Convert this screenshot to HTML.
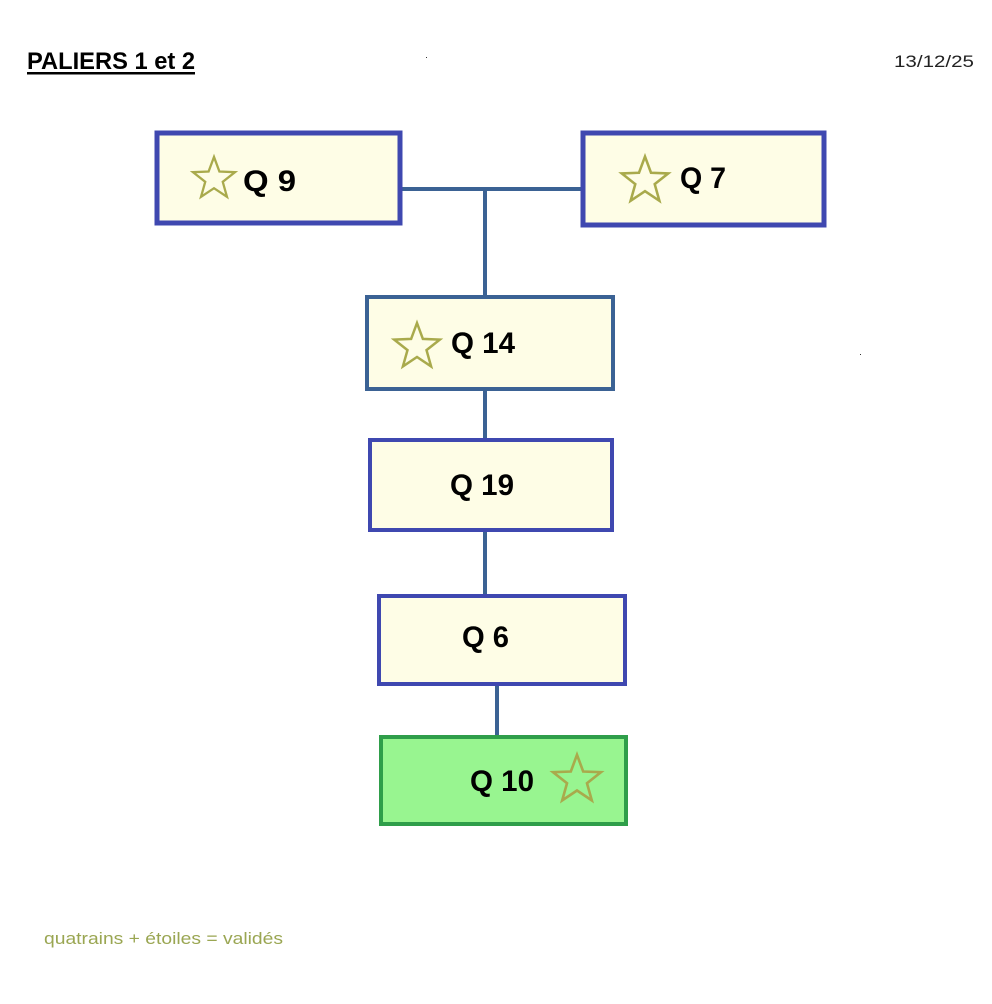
<!DOCTYPE html>
<html><head><meta charset="utf-8"><style>html,body{margin:0;padding:0;background:#fff}svg{display:block}</style></head>
<body>
<svg width="992" height="1004" viewBox="0 0 992 1004" xmlns="http://www.w3.org/2000/svg">
<defs>
<polygon id="st" points="0,-24 5.88,-8.09 22.83,-7.42 9.51,3.09 14.11,19.42 0,10 -14.11,19.42 -9.51,3.09 -22.83,-7.42 -5.88,-8.09" fill="none" stroke="#a9aa4c" stroke-width="2.5" stroke-linejoin="miter"/>
</defs>
<text x="27" y="69" font-family="Liberation Sans, sans-serif" font-weight="bold" font-size="24" textLength="168" lengthAdjust="spacingAndGlyphs" fill="#000">PALIERS 1 et 2</text>
<rect x="27" y="72" width="168" height="2.5" fill="#000"/>
<text x="894" y="67" font-family="Liberation Sans, sans-serif" font-size="17" textLength="80" lengthAdjust="spacingAndGlyphs" fill="#222">13/12/25</text>
<rect x="426" y="57" width="1" height="1" fill="#333"/>
<rect x="860" y="354" width="1" height="1" fill="#333"/>
<g stroke="#3b6294" stroke-width="4" fill="none">
<line x1="401" y1="189" x2="581" y2="189"/>
<line x1="485" y1="189" x2="485" y2="296"/>
<line x1="485" y1="390" x2="485" y2="439"/>
<line x1="485" y1="531" x2="485" y2="594"/>
<line x1="497" y1="685" x2="497" y2="735"/>
</g>
<rect x="157" y="133" width="243" height="90" fill="#fefde6" stroke="#3f48b0" stroke-width="5"/>
<rect x="583" y="133" width="241" height="92" fill="#fefde6" stroke="#3f48b0" stroke-width="5"/>
<rect x="367" y="297" width="246" height="92" fill="#fefde6" stroke="#3b6294" stroke-width="4"/>
<rect x="370" y="440" width="242" height="90" fill="#fefde6" stroke="#3f48b0" stroke-width="4"/>
<rect x="379" y="596" width="246" height="88" fill="#fefde6" stroke="#3f48b0" stroke-width="4"/>
<rect x="381" y="737" width="245" height="87" fill="#98f590" stroke="#2f9e4a" stroke-width="4"/>
<use href="#st" transform="translate(214,179) scale(0.92)"/>
<use href="#st" transform="translate(645,181) scale(1.02)"/>
<use href="#st" transform="translate(417,347) scale(1.0)"/>
<use href="#st" transform="translate(577,780) scale(1.05)"/>
<g font-family="Liberation Sans, sans-serif" font-weight="bold" font-size="30" fill="#000">
<text x="243" y="191" textLength="53" lengthAdjust="spacingAndGlyphs">Q 9</text>
<text x="680" y="188" textLength="46" lengthAdjust="spacingAndGlyphs">Q 7</text>
<text x="451" y="353" textLength="64" lengthAdjust="spacingAndGlyphs">Q 14</text>
<text x="450" y="495" textLength="64" lengthAdjust="spacingAndGlyphs">Q 19</text>
<text x="462" y="647" textLength="47" lengthAdjust="spacingAndGlyphs">Q 6</text>
<text x="470" y="791" textLength="64" lengthAdjust="spacingAndGlyphs">Q 10</text>
</g>
<text x="44" y="944" font-family="Liberation Sans, sans-serif" font-size="17" textLength="239" lengthAdjust="spacingAndGlyphs" fill="#9aa652">quatrains + étoiles = validés</text>
</svg>
</body></html>
